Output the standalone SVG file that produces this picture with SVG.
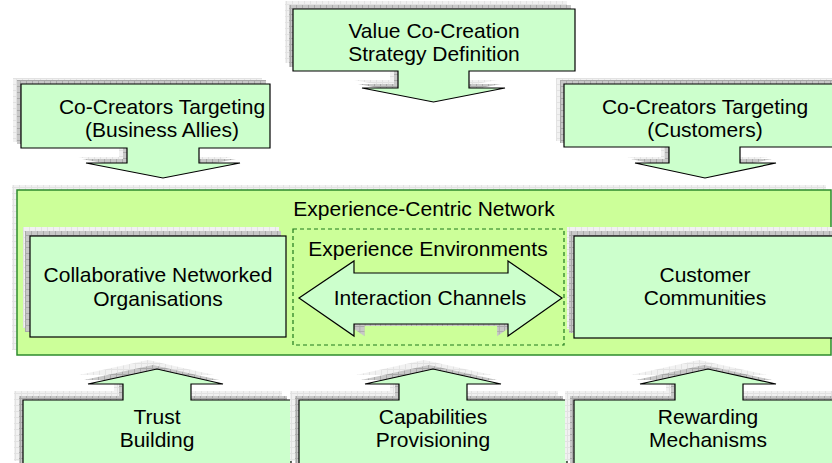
<svg xmlns="http://www.w3.org/2000/svg" xmlns:xlink="http://www.w3.org/1999/xlink" width="832" height="463" viewBox="0 0 832 463">
<style>
text{font-family:"Liberation Sans",Arial,sans-serif;font-size:21px;fill:#000;text-anchor:middle}
.sh1{fill:url(#gl)}
.sh2{fill:url(#gd)}
.node{fill:#ccffcc;stroke:#000;stroke-width:1.2}
.cont{fill:#ccff99;stroke:#2e8b2e;stroke-width:1.5}
.dash{fill:none;stroke:#1f7a1f;stroke-width:1.2;stroke-dasharray:4 3}
</style>
<defs>
<pattern id="gl" width="6" height="6" patternUnits="userSpaceOnUse"><rect width="6" height="6" fill="#f1f1f1"/><path d="M0 0.5H6M0.5 0V6" stroke="#e2e2e2" stroke-width="1"/></pattern>
<pattern id="gd" width="6" height="6" patternUnits="userSpaceOnUse"><rect width="6" height="6" fill="#c8c8c8"/><path d="M0 0.5H6M0.5 0V6" stroke="#a9a9a9" stroke-width="1"/></pattern>
<path id="sV" d="M293,9 H575 V71 H469 V88 H505 L433.5,102 L362,88 H398 V71 H293 Z"/>
<path id="sB" d="M21,84 H270 V148 H199 V163 H240 L163,178 L86,163 H127 V148 H21 Z"/>
<path id="sC" d="M564,84 H845 V147 H740 V163 H776 L705,178 L635,163 H669 V147 H564 Z"/>
<rect id="sN" x="17" y="190" width="814" height="165"/>
<rect id="sO" x="30" y="236" width="256" height="101"/>
<rect id="sU" x="574" y="236" width="265" height="102"/>
<path id="sI" d="M299,298 L354,261 V273 H508 V261 L562,298 L508,336 V324 H354 V336 Z"/>
<path id="sT" d="M23,470 V400 H123 V384 H88 L157,369 L223,384 H191 V400 H291 V470 Z"/>
<path id="sP" d="M299,470 V400 H399 V384 H365 L433,369 L501,384 H467 V400 H567 V470 Z"/>
<path id="sR" d="M574,470 V400 H675 V384 H640 L708,369 L776,384 H743 V400 H845 V470 Z"/>
</defs>
<rect width="832" height="463" fill="#fff"/>

<g id="value-strategy">
<use xlink:href="#sV" class="sh1" transform="translate(-8,-8)"/>
<use xlink:href="#sV" class="sh2" transform="translate(-4,-4)"/>
<use xlink:href="#sV" class="node"/>
<text x="434" y="38">Value Co-Creation</text>
<text x="434" y="61">Strategy Definition</text>
</g>

<g id="targeting-allies">
<use xlink:href="#sB" class="sh1" transform="translate(-8,-6)"/>
<use xlink:href="#sB" class="sh2" transform="translate(-4,-4)"/>
<use xlink:href="#sB" class="node"/>
<text x="162" y="114">Co-Creators Targeting</text>
<text x="162" y="137">(Business Allies)</text>
</g>

<g id="targeting-customers">
<use xlink:href="#sC" class="sh1" transform="translate(-8,-6)"/>
<use xlink:href="#sC" class="sh2" transform="translate(-4,-4)"/>
<use xlink:href="#sC" class="node"/>
<text x="705" y="114">Co-Creators Targeting</text>
<text x="705" y="137">(Customers)</text>
</g>

<g id="network">
<use xlink:href="#sN" class="sh1" transform="translate(-5,-5)"/>
<use xlink:href="#sN" class="cont"/>
<text x="424" y="216">Experience-Centric Network</text>
</g>

<g id="collaborative">
<use xlink:href="#sO" class="sh1" transform="translate(-7,-9)"/>
<use xlink:href="#sO" class="sh2" transform="translate(-5,-5)"/>
<use xlink:href="#sO" class="node"/>
<text x="158" y="282">Collaborative Networked</text>
<text x="158" y="306">Organisations</text>
</g>

<g id="communities">
<use xlink:href="#sU" class="sh1" transform="translate(-7,-9)"/>
<use xlink:href="#sU" class="sh2" transform="translate(-5,-5)"/>
<use xlink:href="#sU" class="node"/>
<text x="705" y="282">Customer</text>
<text x="705" y="305">Communities</text>
</g>

<g id="environments">
<rect x="293" y="229" width="271" height="116" class="dash"/>
<text x="428" y="256">Experience Environments</text>
</g>

<g id="channels">
<use xlink:href="#sI" class="sh2" transform="translate(430,304) scale(0.86,0.85) translate(-430,-298)"/>
<use xlink:href="#sI" class="node"/>
<text x="430" y="305">Interaction Channels</text>
</g>

<g id="connectors"></g>

<g id="trust">
<use xlink:href="#sT" class="sh1" transform="translate(-9,-9)"/>
<use xlink:href="#sT" class="sh2" transform="translate(-4,-4)"/>
<use xlink:href="#sT" class="node"/>
<text x="157" y="424">Trust</text>
<text x="157" y="447">Building</text>
</g>

<g id="capabilities">
<use xlink:href="#sP" class="sh1" transform="translate(-9,-9)"/>
<use xlink:href="#sP" class="sh2" transform="translate(-4,-4)"/>
<use xlink:href="#sP" class="node"/>
<text x="433" y="424">Capabilities</text>
<text x="433" y="447">Provisioning</text>
</g>

<g id="rewarding">
<use xlink:href="#sR" class="sh1" transform="translate(-9,-9)"/>
<use xlink:href="#sR" class="sh2" transform="translate(-4,-4)"/>
<use xlink:href="#sR" class="node"/>
<text x="708" y="424">Rewarding</text>
<text x="708" y="447">Mechanisms</text>
</g>
</svg>
